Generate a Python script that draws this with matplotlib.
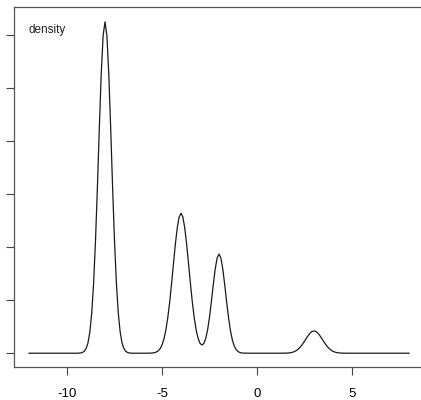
import matplotlib
matplotlib.use("Agg")
import matplotlib.pyplot as plt
import numpy as np

plt.rcParams["font.family"] = ["Liberation Sans", "DejaVu Sans"]

# density, 0.1 apart, one segment per hump
peak_a_start = -9.4
peak_a_y = [0.0001, 0.0004, 0.0012, 0.0033, 0.0083, 0.0188, 0.0393, 0.0751,
            0.1317, 0.2119, 0.3128, 0.4235, 0.5256, 0.5986, 0.6250,
            0.5986, 0.5256, 0.4235, 0.3128, 0.2119, 0.1317, 0.0751, 0.0393,
            0.0188, 0.0083, 0.0033, 0.0012, 0.0004, 0.0001]

peak_bc_start = -5.7
peak_bc_y = [0.0001, 0.0002, 0.0004, 0.0010, 0.0022, 0.0045, 0.0086, 0.0155,
             0.0266, 0.0430, 0.0658, 0.0951, 0.1300, 0.1677, 0.2045, 0.2357,
             0.2566, 0.2640, 0.2566, 0.2357, 0.2045, 0.1677, 0.1300, 0.0952,
             0.0660, 0.0435, 0.0279, 0.0187, 0.0155, 0.0182, 0.0275, 0.0440,
             0.0678, 0.0975, 0.1296, 0.1588, 0.1795, 0.1870, 0.1795, 0.1588,
             0.1295, 0.0973, 0.0674, 0.0430, 0.0253, 0.0137, 0.0069, 0.0032,
             0.0013, 0.0005, 0.0002, 0.0001]

peak_d_start = 1.4
peak_d_y = [0.0001, 0.0002, 0.0003, 0.0006, 0.0012, 0.0021, 0.0036, 0.0057,
            0.0087, 0.0125, 0.0173, 0.0227, 0.0283, 0.0336, 0.0381, 0.0410,
            0.0420, 0.0410, 0.0381, 0.0336, 0.0283, 0.0227, 0.0173, 0.0125,
            0.0087, 0.0057, 0.0036, 0.0021, 0.0012, 0.0006, 0.0003, 0.0002,
            0.0001]

x_range = [-12.0, 8.0]
x_ticks = [-10, -5, 0, 5]
y_ticks = [0.0, 0.1, 0.2, 0.3, 0.4, 0.5, 0.6]


def segment(start, ys):
    xs = start + 0.1 * np.arange(len(ys))
    return list(np.round(xs, 2)), list(ys)


xs, ys = [x_range[0]], [0.0]
for start, vals in [(peak_a_start, peak_a_y), (peak_bc_start, peak_bc_y),
                    (peak_d_start, peak_d_y)]:
    sx, sy = segment(start, vals)
    xs += [sx[0] - 0.1] + sx + [sx[-1] + 0.1]
    ys += [0.0] + sy + [0.0]
xs.append(x_range[1])
ys.append(0.0)

fig = plt.figure(figsize=(4.21, 4.00), dpi=100)
ax = fig.add_axes([13.8 / 421, 33 / 400, 410.4 / 421, 360 / 400])

ax.plot(xs, ys, color="#1a1a1a", linewidth=0.9)

ax.set_xlim(-12.8, 8.8)
ax.set_ylim(-0.026, 0.653)
ax.set_xticks(x_ticks)
ax.set_xticklabels([str(t) for t in x_ticks])
ax.set_yticks(y_ticks)
ax.set_yticklabels([])

ax.tick_params(axis="x", direction="out", length=6, width=0.8,
               color="#444444", labelsize=9.5, pad=9)
ax.tick_params(axis="y", direction="out", length=6, width=0.8,
               color="#444444")
for name in ("left", "bottom", "top"):
    ax.spines[name].set_color("#555555")
    ax.spines[name].set_linewidth(0.9)
ax.spines["right"].set_visible(False)

ax.text(-12.05, 0.609, "density", ha="left", va="center", fontsize=8.5,
        color="#222222")

fig.savefig("out.png", dpi=100)
